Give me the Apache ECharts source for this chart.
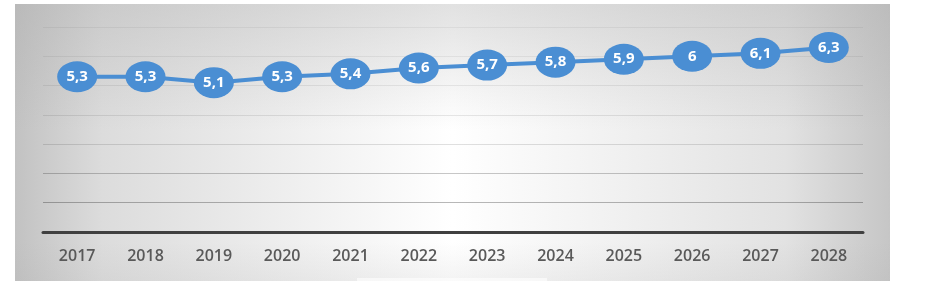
<!DOCTYPE html>
<html>
<head>
<meta charset="utf-8">
<script src="https://cdn.jsdelivr.net/npm/echarts@6/dist/echarts.min.js"></script>
<style>
html,body{margin:0;padding:0;background:#fff;}
#c{width:937px;height:281px;}
</style>
</head>
<body>
<div id="c"></div>
<script>
const categories = ['2017','2018','2019','2020','2021','2022','2023','2024','2025','2026','2027','2028'];
const values = [5.3, 5.3, 5.1, 5.3, 5.4, 5.6, 5.7, 5.8, 5.9, 6, 6.1, 6.3];
const yMin = 0, yMax = 7, yInterval = 1;

const chart = echarts.init(document.getElementById('c'), null, {renderer: 'canvas'});
chart.setOption({
  animation: false,
  graphic: [
    {
      type: 'rect', z: -10, silent: true,
      shape: {x: 15, y: 4, width: 875, height: 280},
      style: {
        fill: new echarts.graphic.LinearGradient(0, 0, 1, 0, [
          {offset: 0, color: '#c2c2c2'},
          {offset: 0.1, color: '#dcdcdc'},
          {offset: 0.5, color: '#ffffff'},
          {offset: 0.88, color: '#e2e2e2'},
          {offset: 1, color: '#c6c6c6'}
        ])
      }
    },
    {
      type: 'rect', z: -9, silent: true,
      shape: {x: 15, y: 4, width: 875, height: 280},
      style: {
        fill: new echarts.graphic.LinearGradient(0, 0, 0, 1, [
          {offset: 0, color: 'rgba(170,170,170,0.35)'},
          {offset: 0.45, color: 'rgba(170,170,170,0)'},
          {offset: 0.85, color: 'rgba(170,170,170,0)'},
          {offset: 1, color: 'rgba(170,170,170,0.15)'}
        ])
      }
    },
    {
      type: 'rect', z: -8, silent: true,
      shape: {x: 357, y: 278, width: 190, height: 6},
      style: {fill: 'rgba(255,255,255,0.6)'}
    }
  ],
  grid: {left: 43, right: 74, top: 27, bottom: 49, containLabel: false},
  xAxis: {
    type: 'category',
    data: categories,
    boundaryGap: true,
    axisLine: {lineStyle: {color: '#404040', width: 3}},
    axisTick: {show: false},
    axisLabel: {color: '#595959', fontSize: 16, fontWeight: 600, fontFamily: 'Open Sans', margin: 16}
  },
  yAxis: {
    type: 'value', min: yMin, max: yMax, interval: yInterval,
    axisLine: {show: false}, axisTick: {show: false}, axisLabel: {show: false},
    splitLine: {lineStyle: {color: ['rgba(0,0,0,0.3)','rgba(0,0,0,0.28)','rgba(0,0,0,0.22)','rgba(0,0,0,0.12)','rgba(0,0,0,0.09)','rgba(0,0,0,0.07)','rgba(0,0,0,0.06)','rgba(0,0,0,0.05)'], width: 1}}
  },
  series: [{
    type: 'line',
    data: values,
    symbol: 'circle',
    symbolSize: [40, 31],
    lineStyle: {color: '#4a8ed3', width: 4},
    itemStyle: {color: '#4a8ed3'},
    label: {
      show: true, position: 'inside', color: '#ffffff',
      fontSize: 15, fontWeight: 'bold', fontFamily: 'Open Sans',
      formatter: p => String(p.value).replace('.', ',')
    }
  }]
});
</script>
</body>
</html>
